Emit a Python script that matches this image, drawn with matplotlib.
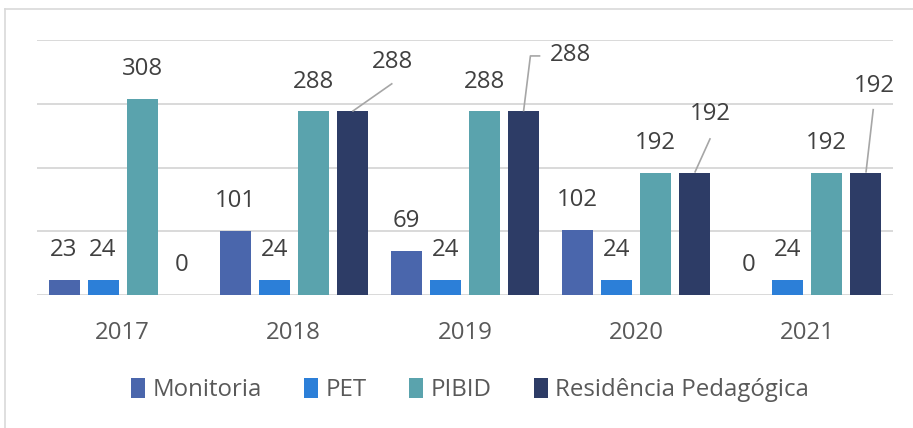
import matplotlib
matplotlib.use("Agg")
import matplotlib.pyplot as plt
from matplotlib.lines import Line2D
import numpy as np

years = ["2017", "2018", "2019", "2020", "2021"]
series_names = ["Monitoria", "PET", "PIBID", "Residência Pedagógica"]
monitoria = [23, 101, 69, 102, 0]
pet = [24, 24, 24, 24, 24]
pibid = [308, 288, 288, 192, 192]
residencia = [0, 288, 288, 192, 192]
colors = ["#4a66ac", "#2c7fd8", "#5aa3ad", "#2d3c66"]

plt.rcParams['font.family'] = ['Open Sans', 'DejaVu Sans']
FS = 17.3

fig = plt.figure(figsize=(9.13, 4.28), dpi=100)
ax = fig.add_axes([37/913, 1-295/428, (893-37)/913, (295-40)/428])

x = np.arange(len(years))
width = 0.181
pitch = 0.228
offsets = [-1.5*pitch, -0.5*pitch, 0.5*pitch, 1.5*pitch]
all_series = [monitoria, pet, pibid, residencia]

for vals, off, col, name in zip(all_series, offsets, colors, series_names):
    ax.bar(x + off, vals, width=width, color=col, label=name, zorder=3)

ax.set_xlim(-0.5, len(years) - 0.5)
ax.set_ylim(0, 400)
ax.set_yticks([0, 100, 200, 300, 400])
ax.yaxis.grid(True, color="#d9d9d9", linewidth=1.4, zorder=0)
ax.set_axisbelow(True)
ax.tick_params(axis='y', left=False, labelleft=False)
ax.set_xticks(x)
ax.set_xticklabels(years, fontsize=FS, color="#595959")
ax.tick_params(axis='x', length=0, pad=19)
for s in ax.spines.values():
    s.set_visible(False)

label_col = "#404040"
for si, (vals, off) in enumerate(zip(all_series, offsets)):
    for i, v in enumerate(vals):
        if si == 3 and v > 0:
            continue
        ax.annotate(str(v), (x[i] + off, v), xytext=(0, 21.5), textcoords='offset points',
                    ha='center', va='center', fontsize=FS, color=label_col)

# callout labels for Residência Pedagógica (label offsets in data units)
line_col = "#a6a6a6"
callouts = {
    1: dict(text=(0.234, 77), path=[(0.234, 44)]),
    2: dict(text=(0.279, 88), path=[(0.04, 87), (0.098, 87)], ha='left', textx=0.156),
    3: dict(text=(0.091, 92), path=[(0.091, 54)]),
    4: dict(text=(0.049, 136), path=[(0.043, 100)]),
}
for i, c in callouts.items():
    v = residencia[i]
    bx = x[i] + offsets[3]
    xs = [bx] + [bx + dx for dx, dy in c['path']]
    ys = [v] + [v + dy for dx, dy in c['path']]
    ax.plot(xs, ys, color=line_col, linewidth=1.2, zorder=4, solid_capstyle='butt')
    if c.get('ha') == 'left':
        ax.text(bx + c['textx'], v + c['text'][1], str(v), ha='left', va='center',
                fontsize=FS, color=label_col)
    else:
        ax.text(bx + c['text'][0], v + c['text'][1], str(v), ha='center', va='center',
                fontsize=FS, color=label_col)

leg = fig.legend(loc='center', bbox_to_anchor=(470/913, 1-390/428), ncol=4, frameon=False,
                 fontsize=FS, handlelength=0.6, handleheight=0.9, handletextpad=0.3,
                 columnspacing=1.75, labelcolor="#595959")

# chart border
fig.add_artist(Line2D([5/913, 5/913], [0, 1-9/428], transform=fig.transFigure, color="#d9d9d9", lw=1.2))
fig.add_artist(Line2D([5/913, 1], [1-9/428, 1-9/428], transform=fig.transFigure, color="#d9d9d9", lw=1.2))

fig.savefig("out.png", dpi=100)
